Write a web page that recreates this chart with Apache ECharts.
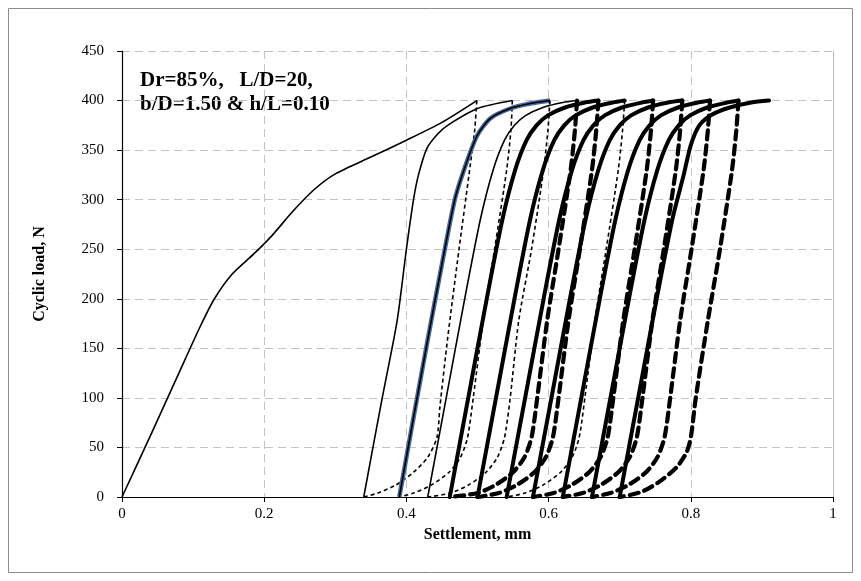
<!DOCTYPE html>
<html lang="en">
<head>
    <meta charset="UTF-8">
    <title>Cyclic load vs settlement</title>
    <script src="https://cdn.jsdelivr.net/npm/echarts@6/dist/echarts.min.js"></script>
    <style>
        * { padding: 0; margin: 0; }
        html, body { width: 861px; height: 581px; background: #fff; }
        #chart { width: 861px; height: 581px; }
    </style>
</head>
<body>
<div id="chart"></div>
<script>
    // loading branches (settlement mm, load N)
    var load1 = [[0,0],[0.04,62],[0.08,125],[0.11,172],[0.13,200],[0.155,225],[0.185,245],[0.21,263],[0.24,288],[0.27,310],[0.3,326],[0.35,343],[0.4,360],[0.45,378],[0.499,400]];
    var load2 = [[0.34,0],[0.366,100],[0.387,178],[0.40,250],[0.41,300],[0.417,325],[0.429,352],[0.445,367],[0.46,376],[0.5,392],[0.549,400]];
    var load3 = [[0.39,0],[0.41,80],[0.429,155],[0.45,235],[0.468,300],[0.48,328],[0.499,364],[0.518,382],[0.546,392],[0.574,397],[0.602,400]];
    var load4 = [[0.43,0],[0.456,100],[0.482,200],[0.504,280],[0.522,330],[0.538,360],[0.552,375],[0.568,385],[0.592,393],[0.62,398],[0.64,400]];
    var load5 = [[0.461,0],[0.487,100],[0.513,200],[0.535,280],[0.553,330],[0.569,360],[0.583,375],[0.599,385],[0.623,393],[0.651,398],[0.67,400]];
    var load6 = [[0.50,0],[0.526,100],[0.552,200],[0.574,280],[0.592,330],[0.608,360],[0.622,375],[0.638,385],[0.662,393],[0.69,398],[0.707,400]];
    var load7 = [[0.541,0],[0.567,100],[0.593,200],[0.615,280],[0.633,330],[0.649,360],[0.663,375],[0.679,385],[0.703,393],[0.731,398],[0.747,400]];
    var load8 = [[0.578,0],[0.604,100],[0.63,200],[0.652,280],[0.67,330],[0.686,360],[0.70,375],[0.716,385],[0.74,393],[0.768,398],[0.788,400]];
    var load9 = [[0.62,0],[0.646,100],[0.672,200],[0.694,280],[0.712,330],[0.728,360],[0.742,375],[0.758,385],[0.782,393],[0.81,398],[0.827,400]];
    var load10 = [[0.661,0],[0.687,100],[0.713,200],[0.735,280],[0.753,330],[0.769,360],[0.783,375],[0.799,385],[0.823,393],[0.851,398],[0.867,400]];
    var load11 = [[0.70,0],[0.726,100],[0.752,200],[0.774,280],[0.79,325],[0.80,355],[0.812,375],[0.83,386],[0.855,393],[0.885,398],[0.91,400]];

    // unloading branches
    var unload1 = [[0.499,400],[0.496,370],[0.488,325],[0.474,250],[0.458,160],[0.447,90],[0.443,60],[0.43,40],[0.41,25],[0.385,12],[0.36,4],[0.34,0]];
    var unload2 = [[0.549,400],[0.547,370],[0.541,330],[0.524,250],[0.508,178],[0.494,100],[0.486,60],[0.476,40],[0.46,25],[0.435,12],[0.41,4],[0.39,0]];
    var unload3 = [[0.602,400],[0.599,370],[0.593,330],[0.576,250],[0.558,178],[0.546,100],[0.538,60],[0.528,40],[0.512,25],[0.487,12],[0.462,4],[0.43,0]];
    var unload4 = [[0.64,400],[0.637,370],[0.631,330],[0.614,250],[0.598,178],[0.584,100],[0.576,60],[0.566,40],[0.55,25],[0.525,12],[0.5,4],[0.461,0]];
    var unload5 = [[0.67,400],[0.667,370],[0.661,330],[0.644,250],[0.628,178],[0.614,100],[0.606,60],[0.596,40],[0.58,25],[0.555,12],[0.53,4],[0.50,0]];
    var unload6 = [[0.707,400],[0.704,370],[0.698,330],[0.681,250],[0.665,178],[0.651,100],[0.643,60],[0.633,40],[0.617,25],[0.592,12],[0.567,4],[0.541,0]];
    var unload7 = [[0.747,400],[0.744,370],[0.738,330],[0.721,250],[0.705,178],[0.691,100],[0.683,60],[0.673,40],[0.657,25],[0.632,12],[0.607,4],[0.578,0]];
    var unload8 = [[0.788,400],[0.785,370],[0.779,330],[0.762,250],[0.746,178],[0.732,100],[0.724,60],[0.714,40],[0.698,25],[0.673,12],[0.648,4],[0.62,0]];
    var unload9 = [[0.827,400],[0.824,370],[0.818,330],[0.801,250],[0.785,178],[0.771,100],[0.763,60],[0.753,40],[0.737,25],[0.712,12],[0.687,4],[0.661,0]];
    var unload10 = [[0.867,400],[0.864,370],[0.858,330],[0.841,250],[0.824,178],[0.807,100],[0.80,60],[0.794,45],[0.78,30],[0.755,15],[0.73,5],[0.70,0]];

    var thin = { color: '#000', width: 1.6, type: 'solid' };
    var thick = { color: '#000', width: 4, type: 'solid', cap: 'round' };
    var thinDash = { color: '#000', width: 1.6, type: [4, 3] };
    var thickDash = { color: '#000', width: 4.2, type: [9, 6], cap: 'round' };
    var blue = { color: '#46699b', width: 4.5, type: 'solid' };

    function line(data, style) {
        return {
            type: 'line',
            data: data,
            showSymbol: false,
            smooth: 0.25,
            silent: true,
            lineStyle: style,
            z: 3
        };
    }

    var series = [
        line(load1, thin), line(unload1, thinDash),
        line(load2, thin), line(unload2, thinDash),
        line(load3, blue), line(load3, thin), line(unload3, thinDash),
        line(load4, thin), line(unload4, thickDash),
        line(load5, thick), line(unload5, thickDash),
        line(load6, thick), line(unload6, thinDash),
        line(load7, thick), line(unload7, thickDash),
        line(load8, thick), line(unload8, thickDash),
        line(load9, thick), line(unload9, thickDash),
        line(load10, thick), line(unload10, thickDash),
        line(load11, thick)
    ];

    var chart = echarts.init(document.getElementById('chart'));
    var font = 'Liberation Serif';
    chart.setOption({
        animation: false,
        backgroundColor: '#fff',
        grid: { left: 122, right: 28, top: 51, bottom: 84 },
        graphic: [{
            type: 'rect',
            shape: { x: 8.5, y: 8.5, width: 844, height: 564 },
            style: { fill: 'none', stroke: '#8c8c8c', lineWidth: 1 }
        }, {
            type: 'text',
            left: 140, top: 69,
            style: {
                text: 'Dr=85%,   L/D=20,\nb/D=1.50 & h/L=0.10',
                font: 'bold 21px "Liberation Serif"',
                lineHeight: 24,
                fill: '#000'
            }
        }],
        xAxis: {
            type: 'value',
            min: 0, max: 1, interval: 0.2,
            name: 'Settlement, mm',
            nameLocation: 'middle',
            nameGap: 27,
            nameTextStyle: { fontFamily: font, fontWeight: 'bold', fontSize: 16, color: '#000' },
            axisLine: { show: true, lineStyle: { color: '#000', width: 1.2 } },
            axisTick: { show: true, length: 5, lineStyle: { color: '#000' } },
            axisLabel: {
                fontFamily: font, fontSize: 15, color: '#000', margin: 10,
                formatter: function (v) { return String(+v.toFixed(1)); }
            },
            splitLine: { show: true, lineStyle: { color: '#c4c4c4', type: [8, 5], width: 1 } }
        },
        yAxis: [{
            type: 'value',
            min: 0, max: 450, interval: 50,
            name: 'Cyclic load, N',
            nameLocation: 'middle',
            nameGap: 74,
            nameTextStyle: { fontFamily: font, fontWeight: 'bold', fontSize: 16, color: '#000' },
            axisLine: { show: true, lineStyle: { color: '#000', width: 1.2 } },
            axisTick: { show: true, length: 5, lineStyle: { color: '#000' } },
            axisLabel: { fontFamily: font, fontSize: 15, color: '#000', margin: 18 },
            splitLine: { show: true, lineStyle: { color: '#c4c4c4', type: [8, 5], width: 1 } }
        }, {
            type: 'value',
            min: 0, max: 450, interval: 50,
            position: 'right',
            axisLine: { show: true, lineStyle: { color: '#bdbdbd', width: 1 } },
            axisTick: { show: false },
            axisLabel: { show: false },
            splitLine: { show: false }
        }],
        series: series
    });
</script>
</body>
</html>
